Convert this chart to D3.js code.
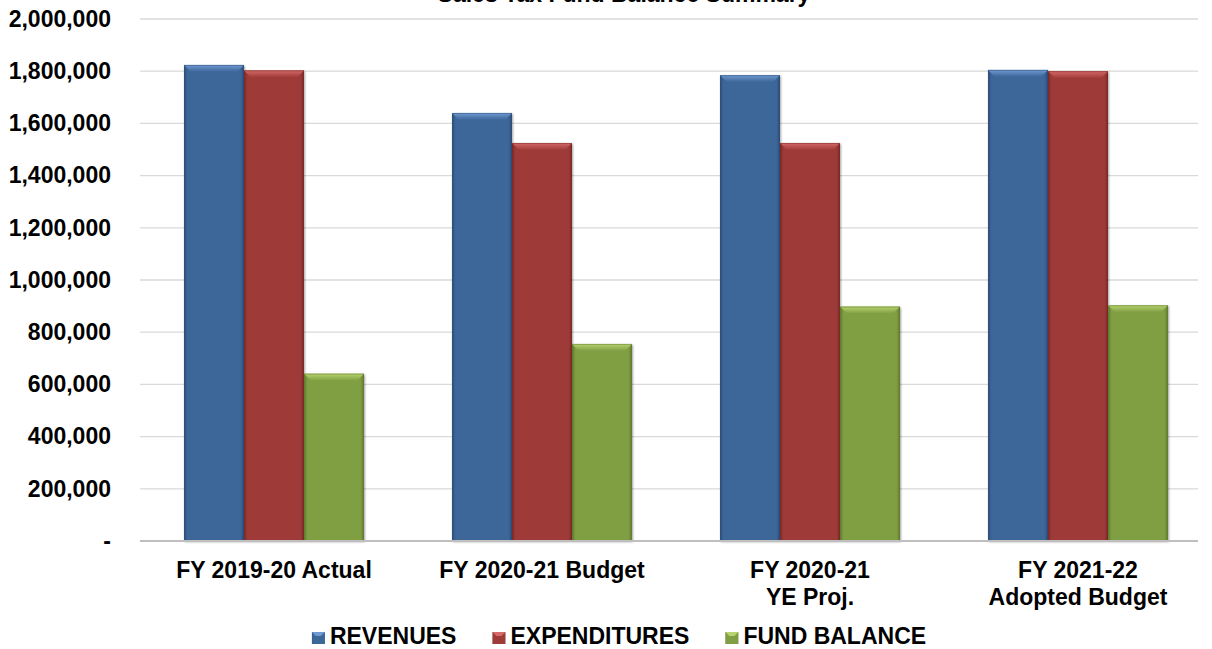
<!DOCTYPE html>
<html><head><meta charset="utf-8">
<script src="https://cdn.jsdelivr.net/npm/d3@7"></script>
<style>
html,body{margin:0;padding:0;background:#fff;}
svg text{font-family:"Liberation Sans",Arial,sans-serif;font-weight:bold;fill:#000;}
</style></head>
<body>
<svg id="chart" width="1212" height="649"></svg>
<script>
const title = "Sales Tax Fund Balance Summary";
const categories = [["FY 2019-20 Actual"], ["FY 2020-21 Budget"], ["FY 2020-21", "YE Proj."], ["FY 2021-22", "Adopted Budget"]];
const seriesNames = ["REVENUES", "EXPENDITURES", "FUND BALANCE"];
const revenues = [1824000, 1640000, 1785000, 1805000];
const expenditures = [1803000, 1525000, 1525000, 1800000];
const fundBalance = [641000, 755000, 898000, 903000];
const yTicks = [0, 200000, 400000, 600000, 800000, 1000000, 1200000, 1400000, 1600000, 1800000, 2000000];

const seriesValues = [revenues, expenditures, fundBalance];
const colors = [
  {base:"#3d6699", light:"#6f9bd2", dark:"#2d4e78"},
  {base:"#9e3b39", light:"#d66a67", dark:"#7a2a28"},
  {base:"#809f43", light:"#b7d46e", dark:"#617a30"}
];

const svg = d3.select("#chart");
const defs = svg.append("defs");
colors.forEach((c, i) => {
  const g = defs.append("linearGradient").attr("id", "side" + i).attr("x1", 0).attr("x2", 1).attr("y1", 0).attr("y2", 0);
  g.append("stop").attr("offset", "0%").attr("stop-color", c.dark);
  g.append("stop").attr("offset", "6%").attr("stop-color", c.base);
  g.append("stop").attr("offset", "94%").attr("stop-color", c.base);
  g.append("stop").attr("offset", "100%").attr("stop-color", c.dark);
  const t = defs.append("linearGradient").attr("id", "top" + i).attr("x1", 0).attr("x2", 0).attr("y1", 0).attr("y2", 1);
  t.append("stop").attr("offset", "0%").attr("stop-color", c.light);
  t.append("stop").attr("offset", "100%").attr("stop-color", c.base);
});
const f = defs.append("filter").attr("id", "shadow").attr("x", "-10%").attr("y", "-10%").attr("width", "130%").attr("height", "130%");
f.append("feDropShadow").attr("dx", 1).attr("dy", 1).attr("stdDeviation", 1.2).attr("flood-color", "#000").attr("flood-opacity", 0.35);

const x0 = d3.scaleBand().domain(d3.range(categories.length)).range([140, 1212]).padding(0);
const x1 = d3.scaleBand().domain(d3.range(seriesNames.length)).range([0, x0.bandwidth()]).paddingInner(0).paddingOuter(0.733);
const y = d3.scaleLinear().domain([0, 2000000]).range([541, 19]);

// title (clipped at top as in reference)
svg.append("text").attr("x", 624).attr("y", 2).attr("text-anchor", "middle").style("font-size", "23px").text(title);

// gridlines
svg.append("g").selectAll("line").data(yTicks.filter(d => d > 0)).join("line")
  .attr("x1", 140).attr("x2", 1198).attr("y1", d => y(d)).attr("y2", d => y(d))
  .attr("stroke", "#d9d9d9").attr("stroke-width", 1.3);

// y axis
const yAxis = d3.axisLeft(y).tickValues(yTicks).tickSize(0).tickPadding(29)
  .tickFormat(d => d === 0 ? "-" : d3.format(",")(d));
const ya = svg.append("g").attr("transform", "translate(140,0)").call(yAxis);
ya.select(".domain").remove();
ya.selectAll("text").style("font-size", "23px").attr("font-family", null).attr("fill", "#000");

// bars
const groups = svg.append("g").selectAll("g").data(categories.map((c, i) => i)).join("g")
  .attr("transform", i => `translate(${x0(i)},0)`);
groups.each(function(ci) {
  const g = d3.select(this);
  seriesValues.forEach((vals, si) => {
    const bx = x1(si), bw = x1.bandwidth();
    const top = y(vals[ci]), bot = y(0);
    const bg = g.append("g");
    bg.append("rect").attr("x", bx).attr("y", top).attr("width", bw).attr("height", bot - top)
      .attr("fill", `url(#side${si})`).attr("filter", "url(#shadow)");
    const bv = 7;
    bg.append("path")
      .attr("d", `M${bx},${top} L${bx + bw},${top} L${bx + bw - bv},${top + bv} L${bx + bv},${top + bv} Z`)
      .attr("fill", `url(#top${si})`);
    bg.append("rect").attr("x", bx + 0.5).attr("y", top + 0.5).attr("width", bw - 1).attr("height", bot - top - 1)
      .attr("fill", "none").attr("stroke", colors[si].dark).attr("stroke-opacity", 0.5).attr("stroke-width", 1);
  });
});

// baseline
svg.append("line").attr("x1", 140).attr("x2", 1198).attr("y1", y(0)).attr("y2", y(0))
  .attr("stroke", "#bfbfbf").attr("stroke-width", 2);

// category labels
const xl = svg.append("g").selectAll("text").data(categories.map((c, i) => i)).join("text")
  .attr("text-anchor", "middle").style("font-size", "23px")
  .attr("x", i => x0(i) + x0.bandwidth() / 2).attr("y", 578);
xl.each(function(i) {
  const t = d3.select(this);
  categories[i].forEach((line, li) => {
    t.append("tspan").attr("x", x0(i) + x0.bandwidth() / 2).attr("y", 578 + li * 27).text(line);
  });
});

// legend
const leg = svg.append("g");
let lx = 0;
seriesNames.forEach((name, si) => {
  const it = leg.append("g").attr("transform", `translate(${lx},0)`);
  it.append("rect").attr("x", 0).attr("y", -12).attr("width", 13).attr("height", 12).attr("fill", `url(#side${si})`);
  it.append("path").attr("d", "M0,-12 L13,-12 L9,-8 L4,-8 Z").attr("fill", colors[si].light);
  const tx = it.append("text").attr("x", 18).attr("y", 0).style("font-size", "23px").text(name);
  lx += 18 + tx.node().getComputedTextLength() + 36;
});
const legW = lx - 36;
leg.attr("transform", `translate(${619 - legW / 2},644)`);
</script>
</body></html>
